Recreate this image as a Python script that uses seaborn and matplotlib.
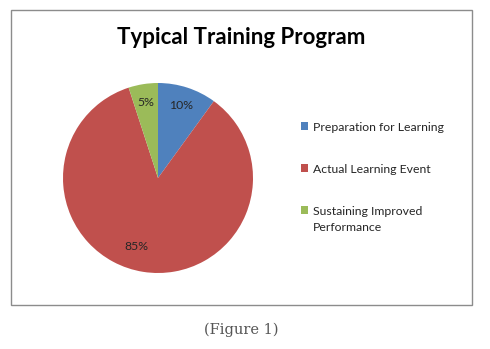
import matplotlib
matplotlib.use("Agg")
import matplotlib.pyplot as plt
import seaborn as sns
from matplotlib.patches import Rectangle

categories = ["Preparation for Learning", "Actual Learning Event", "Sustaining Improved\nPerformance"]
values = [10, 85, 5]
colors = ["#4F81BD", "#C0504D", "#9BBB59"]
title = "Typical Training Program"
caption = "(Figure 1)"

sns.set_theme(style="white")
plt.rcParams['font.family'] = ['Lato', 'DejaVu Sans']

W, H = 490, 349
fig = plt.figure(figsize=(W / 100, H / 100), dpi=100)
fig.patch.set_facecolor("white")

# chart frame
fig.patches.append(Rectangle((11 / W, 1 - 305 / H), (472 - 11) / W, (305 - 10) / H,
                             transform=fig.transFigure, fill=False,
                             edgecolor="#8c8c8c", linewidth=1.0))

cx, cy, r = 158, 178, 95
ax = fig.add_axes([(cx - r) / W, (H - cy - r) / H, 2 * r / W, 2 * r / H])
wedges, texts, autotexts = ax.pie(values, colors=colors, startangle=90, counterclock=False,
                                  autopct="%d%%", pctdistance=0.8, radius=1,
                                  textprops=dict(fontsize=8.8, color="#262626"),
                                  wedgeprops=dict(linewidth=0))
ax.set_xlim(-1, 1)
ax.set_ylim(-1, 1)
ax.axis("off")
# nudge the big-slice label toward Excel's placement
x85, y85 = autotexts[1].get_position()
autotexts[1].set_position((x85 - 0.1, y85 + 0.07))

fig.text(241 / W, 1 - 37 / H, title, ha="center", va="center", fontsize=16,
         fontweight="bold", color="black")

leg = fig.legend(wedges, categories, loc="upper left",
                 bbox_to_anchor=(301 / W, 1 - 122 / H), frameon=False,
                 fontsize=8.8, handlelength=0.6, handleheight=0.6, handletextpad=0.35,
                 labelspacing=2.55, borderaxespad=0, borderpad=0)
for t in leg.get_texts():
    t.set_color("#262626")
    t.set_linespacing(1.5)
# align the colour square with the first line of a wrapped label
for col in leg._legend_handle_box.get_children():
    for row in col.get_children():
        row.align = "top"

fig.text(241 / W, 1 - 330 / H, caption, ha="center", va="center", fontsize=10.5,
         color="#555555", family=["DejaVu Serif"])

fig.savefig("out.png", dpi=100)
